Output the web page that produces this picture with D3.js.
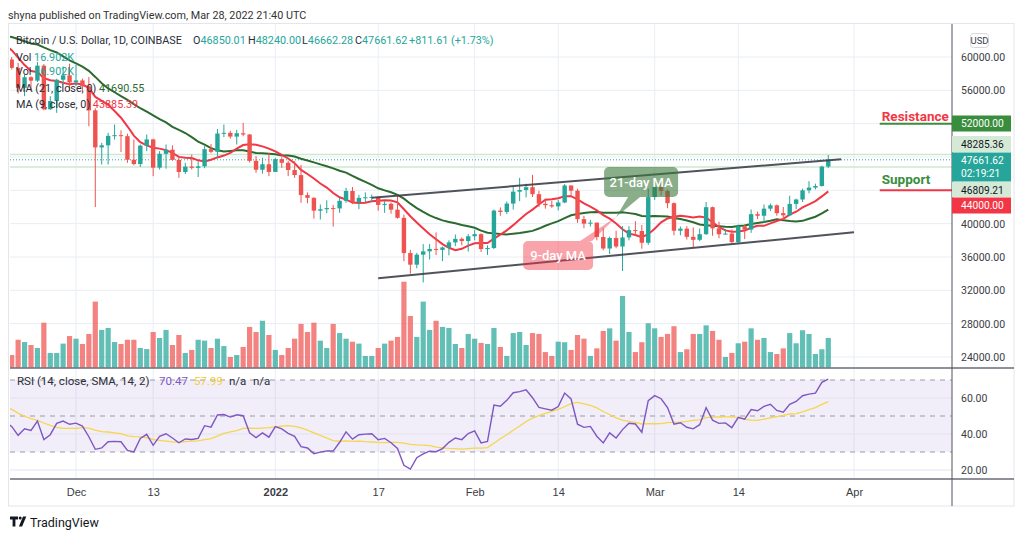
<!DOCTYPE html>
<html><head><meta charset="utf-8">
<script src="https://cdn.jsdelivr.net/npm/d3@7"></script>
<style>
body{margin:0;background:#fff;}
svg{display:block;font-family:Roboto,"Noto Sans",sans-serif;}
</style></head><body>
<svg id="c" width="1024" height="539"></svg>
<script>
// ---------------- DATA ----------------
const startDate = "2021-11-21";
// daily closes before the first visible candle (Oct 1 - Nov 20, 2021), used for MA / RSI warm-up
const historyCloses = [48150,47700,48230,49250,51500,55340,53800,53970,54960,54690,57490,56010,57370,57350,61670,60880,61530,62040,64280,66000,62210,60690,61290,60860,63080,60330,58450,60590,62250,61880,61320,
61000,63230,62940,61450,61010,61530,63300,67550,66970,64880,64800,64170,64400,65500,63600,60100,60350,56900,58100,59700];
const opens = [59700,58700,56300,57570,57160,58960,53730,54720,57270,57800,
56950,57190,56480,53600,49150,49400,50540,50620,50500,47670,47150,49370,50110,46720,48380,48880,47650,46200,46850,46700,46880,48940,48620,50820,50900,50450,50850,50700,47540,46470,47130,
46210,47740,47310,46440,45830,43430,43100,41560,41730,41870,41830,42740,43920,42590,43100,43170,43200,42250,42380,41680,40700,36470,35080,36280,36680,36970,36850,37150,37750,38180,37920,
38490,38740,36950,37080,41570,41410,42410,43840,44040,44380,43540,42390,42220,42070,42540,44580,43960,40540,40000,40120,38400,37020,38280,37260,38350,39230,39120,37710,
43190,44420,43930,42460,39150,39400,38420,38060,38740,41980,39440,38730,38810,37790,39670,39290,41140,40950,41800,42200,41260,41000,42370,42900,44000,44330,44520,46850.01];
const highs = [60000,59300,57850,57700,59400,59150,55300,57400,58870,59200,
59050,57400,57600,53850,49700,50900,51900,51200,50800,50100,49500,50700,50200,48700,49500,49400,47990,47300,48300,47500,49300,49550,51350,51900,51150,51250,52100,50750,48100,47900,48500,
47900,47950,47550,47500,47050,43750,43150,42300,42800,42250,43100,44300,44400,43450,43750,43500,43250,42700,42550,43500,41100,36850,36500,37550,37550,38950,37250,38000,38700,38350,38750,
39250,38850,37400,41700,41950,42650,44500,45500,44800,45850,43950,43000,42750,42850,44750,44580,44200,40950,40450,40150,39450,38450,39150,39700,39700,40300,39850,44200,
44950,45400,44100,42550,39650,39700,39550,39400,42600,42050,40250,39350,39300,39900,39900,41700,41450,42300,42400,42300,42000,43350,43000,44200,45100,44800,46950,48240];
const lows = [58500,55600,55300,55900,57000,53600,53650,53300,56700,55900,
56500,55900,51700,42000,47100,47100,50100,48600,47300,47000,46800,48700,45700,46500,46600,47550,45500,45950,46500,45600,46650,48450,47950,50400,50200,49500,50500,47350,46100,46000,45700,
46200,46700,45700,45500,42500,42450,40600,40500,41250,39650,41300,42500,42350,41750,42600,42600,41550,41300,41200,40600,35500,34000,34650,32950,35700,36250,35500,36200,37300,37400,36650,
38000,36600,36250,36950,40950,41150,41700,42700,43150,43200,42000,41800,41900,41600,42450,43350,40100,39450,39650,38000,36800,36350,37050,34320,38000,38600,37000,37450,
42850,43350,41850,38600,38600,38100,37200,37900,38650,38550,38250,38700,37600,37600,38150,38900,40550,40150,41500,40950,40500,40900,41750,42600,43650,44100,44450,46662.28];
const closes = [58700,56300,57570,57160,58960,53730,54720,57270,57800,56950,
57190,56480,53600,49150,49400,50540,50620,50500,47670,47150,49370,50110,46720,48380,48880,47650,46200,46850,46700,46880,48940,48620,50820,50900,50450,50850,50700,47540,46470,47130,46210,
47740,47310,46440,45830,43430,43100,41560,41730,41870,41830,42740,43920,42590,43100,43170,43200,42250,42380,41680,40700,36470,35080,36280,36680,36970,36850,37150,37750,38180,37920,38490,
38740,36950,37080,41570,41410,42410,43840,44040,44380,43540,42390,42220,42070,42540,44580,43960,40540,40000,40120,38400,37020,38280,37260,38350,39230,39120,37710,43190,
44420,43930,42460,39150,39400,38420,38060,38740,41980,39440,38730,38810,37790,39670,39290,41140,40950,41800,42200,41260,41000,42370,42900,44000,44330,44520,46850,47661.62];
const volumesK = [7.2,15.9,14.6,12.9,11.2,25.6,8.4,8.4,13.7,18.0,
16.5,13.5,19.2,37.6,21.5,22.6,14.6,13.5,15.9,15.9,11.2,10.6,20.3,16.9,21.5,12.9,18.6,8.4,10.1,15.9,15.4,11.2,16.5,12.3,6.1,7.2,11.8,23.2,20.3,26.7,18.6,
10.1,7.2,11.2,16.5,24.9,20.3,25.6,15.4,11.2,24.9,19.7,16.5,14.8,13.7,6.7,6.7,11.2,13.7,15.4,17.5,48.9,29.4,17.5,37.6,21.5,26.7,23.2,22.6,13.5,11.2,19.2,
16.5,14.1,13.5,22.6,11.8,6.7,19.7,20.3,12.9,19.7,19.2,8.9,6.7,14.8,14.5,10.1,18.6,16.5,6.7,11.0,20.9,22.4,15.4,40.8,20.3,8.9,14.5,25.3,
22.4,17.5,19.2,23.6,8.9,10.5,19.2,19.2,24.1,20.9,15.9,6.1,8.4,13.9,14.8,22.4,15.9,16.9,8.9,7.8,11.0,19.7,13.9,21.3,19.2,7.8,10.5,16.902];

const xTickDates  = ["2021-12-01","2021-12-13","2022-01-01","2022-01-17","2022-02-01","2022-02-14","2022-03-01","2022-03-14","2022-04-01"];
const xTickLabels = ["Dec","13","2022","17","Feb","14","Mar","14","Apr"];
const priceTicks = [24000,28000,32000,36000,40000,44000,48000,52000,56000,60000];
const rsiTicks = [20,40,60];
const rsiLevels = [30,50,70];
const resistanceLevel = 52000, supportLevel = 44000, levelStartDate = "2022-04-05";
const markerLevels = [48285.36, 46809.21];
const upperChannel = [["2022-01-16",43116],["2022-03-30",47724]];
const lowerChannel = [["2022-01-17",33444],["2022-04-01",38964]];
const calloutTip = ["2022-02-23", 40800];
const calloutLabels = ["21-day MA","9-day MA"];
const headerText = "shyna published on TradingView.com, Mar 28, 2022 21:40 UTC";
const ohlcLegend = [["O","46850.01"],["H","48240.00"],["L","46662.28"],["C","47661.62"]];
const changeText = "+811.61 (+1.73%)";
const volText = "16.902K";
const ma21Text = "41690.55", ma9Text = "43885.39";
const rsiText = "70.47", rsiSmaText = "57.99";
const currentTime = "02:19:21";

// ---------------- LAYOUT ----------------
const L=10, R=952, T=24, PB=368, RB=479, B=506, AR=1014;
const C_UP="#26a69a", C_DN="#ef5350", GRID="#e9eef5";
const svg=d3.select("#c");
const parse=d3.utcParse("%Y-%m-%d");
const start=parse(startDate);
const dates=closes.map((_,i)=>d3.utcDay.offset(start,i));
const x=d3.scaleUtc().domain([parse("2021-12-01"),parse("2022-04-01")]).range([76,854]);
const y=d3.scaleLinear().domain([24000,60000]).range([357,57]);
const yVol=d3.scaleLinear().domain([0,50]).range([367.7,279.8]);
const yR=d3.scaleLinear().domain([20,60]).range([470,398]);

// derived indicators
const all=historyCloses.concat(closes), off=historyCloses.length;
const dateAt=j=>d3.utcDay.offset(start,j-off);
function sma(arr,n,j){let s=0;for(let k=j-n+1;k<=j;k++)s+=arr[k];return s/n;}
const ma9=[],ma21=[];
for(let j=off-1;j<all.length;j++){ma9.push([dateAt(j),sma(all,9,j)]);ma21.push([dateAt(j),sma(all,21,j)]);}
const rsi=new Array(all.length).fill(null);
{let ag=0,al=0;for(let i=1;i<=14;i++){const c=all[i]-all[i-1];if(c>0)ag+=c;else al-=c;}ag/=14;al/=14;rsi[14]=100-100/(1+ag/al);
 for(let i=15;i<all.length;i++){const c=all[i]-all[i-1];ag=(ag*13+Math.max(c,0))/14;al=(al*13+Math.max(-c,0))/14;rsi[i]=al===0?100:100-100/(1+ag/al);}}
const rsiPts=[],rsiSma=[];
for(let j=off-1;j<all.length;j++){rsiPts.push([dateAt(j),rsi[j]]);let s=0;for(let k=j-13;k<=j;k++)s+=rsi[k];rsiSma.push([dateAt(j),s/14]);}

// ---------------- DRAW ----------------
const defs=svg.append("defs");
defs.append("clipPath").attr("id","cp").append("rect").attr("x",L).attr("y",T).attr("width",R-L).attr("height",PB-T);
defs.append("clipPath").attr("id","cr").append("rect").attr("x",L).attr("y",PB).attr("width",R-L).attr("height",RB-PB);

svg.append("text").attr("x",8).attr("y",19).attr("font-size",10.8).attr("fill","#333").text(headerText);
svg.append("rect").attr("x",8.5).attr("y",T-0.5).attr("width",AR-8.5).attr("height",B-T+0.5).attr("fill","#fff").attr("stroke","#e3e6ec");

// grids
const gp=svg.append("g");
gp.selectAll(".hg").data(priceTicks).join("line").attr("x1",L).attr("x2",R).attr("y1",d=>y(d)).attr("y2",d=>y(d)).attr("stroke",GRID);
gp.selectAll(".vg").data(xTickDates).join("line").attr("x1",d=>x(parse(d))).attr("x2",d=>x(parse(d))).attr("y1",T).attr("y2",RB).attr("stroke",GRID);

// RSI pane background
const gr=svg.append("g");
gr.append("rect").attr("x",L).attr("width",R-L).attr("y",yR(70)).attr("height",yR(30)-yR(70)).attr("fill","rgba(126,87,194,0.1)");
gr.selectAll(".rg").data(rsiTicks).join("line").attr("x1",L).attr("x2",R).attr("y1",d=>yR(d)).attr("y2",d=>yR(d)).attr("stroke","#e4e2ee");
gr.selectAll(".rl").data(rsiLevels).join("line").attr("x1",L).attr("x2",R).attr("y1",d=>yR(d)).attr("y2",d=>yR(d)).attr("stroke","#9a9ca5").attr("stroke-dasharray","5,5");

// price pane
const pp=svg.append("g").attr("clip-path","url(#cp)");
pp.selectAll(".vol").data(volumesK).join("rect")
  .attr("x",(d,i)=>x(dates[i])-2.6).attr("width",5.2)
  .attr("y",d=>yVol(d)).attr("height",d=>yVol(0)-yVol(d))
  .attr("fill",(d,i)=>closes[i]>=opens[i]?C_UP:C_DN).attr("fill-opacity",0.72);
pp.selectAll(".ml").data(markerLevels).join("line").attr("x1",L).attr("x2",R).attr("y1",d=>y(d)).attr("y2",d=>y(d)).attr("stroke","#cfe8d0").attr("stroke-width",1.5);
pp.append("line").attr("x1",L).attr("x2",R).attr("y1",y(closes[closes.length-1])).attr("y2",y(closes[closes.length-1])).attr("stroke",C_UP).attr("stroke-dasharray","1,2");
const line=d3.line().x(d=>x(d[0])).y(d=>y(d[1]));
pp.append("path").datum(ma21).attr("d",line).attr("fill","none").attr("stroke","#2c6b2f").attr("stroke-width",2);
pp.append("path").datum(ma9).attr("d",line).attr("fill","none").attr("stroke","#f23645").attr("stroke-width",2);
const cg=pp.selectAll(".cd").data(closes).join("g");
cg.append("line").attr("x1",(d,i)=>x(dates[i])).attr("x2",(d,i)=>x(dates[i])).attr("y1",(d,i)=>y(highs[i])).attr("y2",(d,i)=>y(lows[i]))
  .attr("stroke",(d,i)=>d>=opens[i]?C_UP:C_DN).attr("stroke-width",1);
cg.append("rect").attr("x",(d,i)=>x(dates[i])-2.2).attr("width",4.4)
  .attr("y",(d,i)=>y(Math.max(d,opens[i]))).attr("height",(d,i)=>Math.max(1,Math.abs(y(d)-y(opens[i]))))
  .attr("fill",(d,i)=>d>=opens[i]?C_UP:C_DN);
// channel
[upperChannel,lowerChannel].forEach(c=>{
  pp.append("line").attr("x1",x(parse(c[0][0]))).attr("y1",y(c[0][1])).attr("x2",x(parse(c[1][0]))).attr("y2",y(c[1][1]))
    .attr("stroke","#3d4049").attr("stroke-width",2).attr("stroke-opacity",0.9);
});
// callouts
const tx=x(parse(calloutTip[0])), ty=y(calloutTip[1]);
function callout(bx,by,bw,bh,tail,fill,label){
  pp.append("rect").attr("x",bx).attr("y",by).attr("width",bw).attr("height",bh).attr("rx",5).attr("fill",fill);
  pp.append("path").attr("d",`M${tail[0]},${tail[1]}L${tail[2]},${tail[1]}L${tx},${ty}Z`).attr("fill",fill);
  pp.append("text").attr("x",bx+bw/2).attr("y",by+bh/2+4.5).attr("text-anchor","middle").attr("fill","#fff").attr("font-size",13).attr("font-weight",500).text(label);
}
callout(tx-12,ty-50,74,30,[tx+12,ty-20,tx+24],"rgba(60,120,60,0.6)",calloutLabels[0]);
callout(tx-93,ty+24,70,29,[tx-36,ty+24,tx-24],"rgba(242,54,69,0.45)",calloutLabels[1]);

// support / resistance
const lx=x(parse(levelStartDate));
svg.append("line").attr("x1",lx).attr("x2",R).attr("y1",y(resistanceLevel)).attr("y2",y(resistanceLevel)).attr("stroke","#388e3c").attr("stroke-width",2);
svg.append("line").attr("x1",lx).attr("x2",R).attr("y1",y(supportLevel)).attr("y2",y(supportLevel)).attr("stroke","#f23645").attr("stroke-width",2);
svg.append("text").attr("x",lx+2).attr("y",y(resistanceLevel)-3).attr("fill","#f23645").attr("font-size",13.5).attr("font-weight","bold").text("Resistance");
svg.append("text").attr("x",lx+2).attr("y",y(supportLevel)-6).attr("fill","#388e3c").attr("font-size",13.5).attr("font-weight","bold").text("Support");

// RSI lines
const rp=svg.append("g").attr("clip-path","url(#cr)");
const rl=d3.line().x(d=>x(d[0])).y(d=>yR(d[1]));
rp.append("path").datum(rsiSma).attr("d",rl).attr("fill","none").attr("stroke","#f5d64e").attr("stroke-width",1.3);
rp.append("path").datum(rsiPts).attr("d",rl).attr("fill","none").attr("stroke","#7e57c2").attr("stroke-width",1.4);

// legends
const lg=svg.append("g").attr("font-size",10.8).attr("fill","#2a2e39");
const r1=lg.append("text").attr("x",16).attr("y",44);
r1.append("tspan").text("Bitcoin / U.S. Dollar, 1D, COINBASE");
const ox=[193,248,302,355];
ohlcLegend.forEach((d,i)=>{r1.append("tspan").attr("x",ox[i]).text(d[0]);r1.append("tspan").attr("fill",C_UP).text(d[1]);});
r1.append("tspan").attr("x",409).attr("fill",C_UP).text(changeText);
[61,75].forEach(yy=>{const t=lg.append("text").attr("x",16).attr("y",yy);t.append("tspan").text("Vol ");t.append("tspan").attr("fill",C_UP).text(volText);});
{const t=lg.append("text").attr("x",16).attr("y",92);t.append("tspan").text("MA (21, close, 0) ");t.append("tspan").attr("fill","#2c6b2f").text(ma21Text);}
{const t=lg.append("text").attr("x",16).attr("y",108);t.append("tspan").text("MA (9, close, 0) ");t.append("tspan").attr("fill","#f23645").text(ma9Text);}
{const t=svg.append("text").attr("x",17).attr("y",385).attr("font-size",11.5).attr("fill","#2a2e39");
 t.append("tspan").text("RSI (14, close, SMA, 14, 2)");
 t.append("tspan").attr("x",159).attr("fill","#7e57c2").text(rsiText);
 t.append("tspan").attr("x",194).attr("fill","#f2cf3a").text(rsiSmaText);
 t.append("tspan").attr("x",229).text("n/a");
 t.append("tspan").attr("x",253).text("n/a");}

// separators / axis lines
svg.append("line").attr("x1",L).attr("x2",AR).attr("y1",PB).attr("y2",PB).attr("stroke","#6a6d78").attr("stroke-width",1.5);
svg.append("line").attr("x1",L).attr("x2",AR).attr("y1",RB).attr("y2",RB).attr("stroke","#6a6d78").attr("stroke-width",1.5);
svg.append("line").attr("x1",R).attr("x2",R).attr("y1",T).attr("y2",B).attr("stroke","#50535e");

// axis price boxes (layout: stacked label tops)
const boxes=[
  {top:115.5,h:16,fill:"#388e3c",col:"#fff",texts:[d3.format(".2f")(resistanceLevel)]},
  {top:136,h:16,fill:"#d5ead6",col:"#131722",texts:[d3.format(".2f")(markerLevels[0])]},
  {top:152.5,h:29,fill:C_UP,col:"#fff",texts:[d3.format(".2f")(closes[closes.length-1]),currentTime]},
  {top:182,h:15,fill:"#d5ead6",col:"#131722",texts:[d3.format(".2f")(markerLevels[1])]},
  {top:197.5,h:16,fill:"#f23645",col:"#fff",texts:[d3.format(".2f")(supportLevel)]}
];
const covered=v=>boxes.some(b=>y(v)>b.top-6&&y(v)<b.top+b.h+6);

// price axis (labels hidden behind the price boxes are not drawn, as in the reference)
const pa=svg.append("g").attr("transform",`translate(${R},0)`).call(d3.axisRight(y).tickValues(priceTicks.filter(v=>!covered(v))).tickSize(0).tickPadding(9).tickFormat(d3.format(".2f")));
pa.select(".domain").remove();
const ra=svg.append("g").attr("transform",`translate(${R},0)`).call(d3.axisRight(yR).tickValues(rsiTicks).tickSize(0).tickPadding(9).tickFormat(d3.format(".2f")));
ra.select(".domain").remove();
svg.selectAll(".tick text").attr("font-size",10.5).attr("fill","#3a3d45").attr("font-family","Roboto");
// USD box
svg.append("rect").attr("x",970.5).attr("y",33.5).attr("width",18).attr("height",14).attr("rx",3).attr("fill","#fff").attr("stroke","#d6d8de");
svg.append("text").attr("x",979.5).attr("y",44).attr("text-anchor","middle").attr("font-size",9.5).attr("fill","#3a3d45").text("USD");
boxes.forEach(b=>{
  svg.append("rect").attr("x",R).attr("y",b.top).attr("width",59).attr("height",b.h).attr("fill",b.fill);
  b.texts.forEach((t,i)=>svg.append("text").attr("x",961).attr("y",b.top+11.5+i*13).attr("font-size",10.2).attr("fill",b.col).text(t));
});

// time axis
const ta=svg.append("g").attr("transform",`translate(0,${RB})`).call(d3.axisBottom(x).tickValues(xTickDates.map(parse)).tickSize(0).tickPadding(9)
  .tickFormat((d,i)=>xTickLabels[i]));
ta.select(".domain").remove();
ta.selectAll("text").attr("font-size",11).attr("fill","#3a3d45").attr("font-weight",(d,i)=>xTickLabels[i]==="2022"?"bold":null);

// logo
const lgo=svg.append("g").attr("fill","#131722");
lgo.append("path").attr("d","M10,516.5h8v3h-2.6v7h-2.8v-7h-2.6z");
lgo.append("circle").attr("cx",20.2).attr("cy",518).attr("r",1.5);
lgo.append("path").attr("d","M23,516.5h3.3l-4.2,10h-3.2z");
svg.append("text").attr("x",30).attr("y",526.5).attr("font-size",12.5).attr("fill","#131722").text("TradingView");
</script></body></html>
